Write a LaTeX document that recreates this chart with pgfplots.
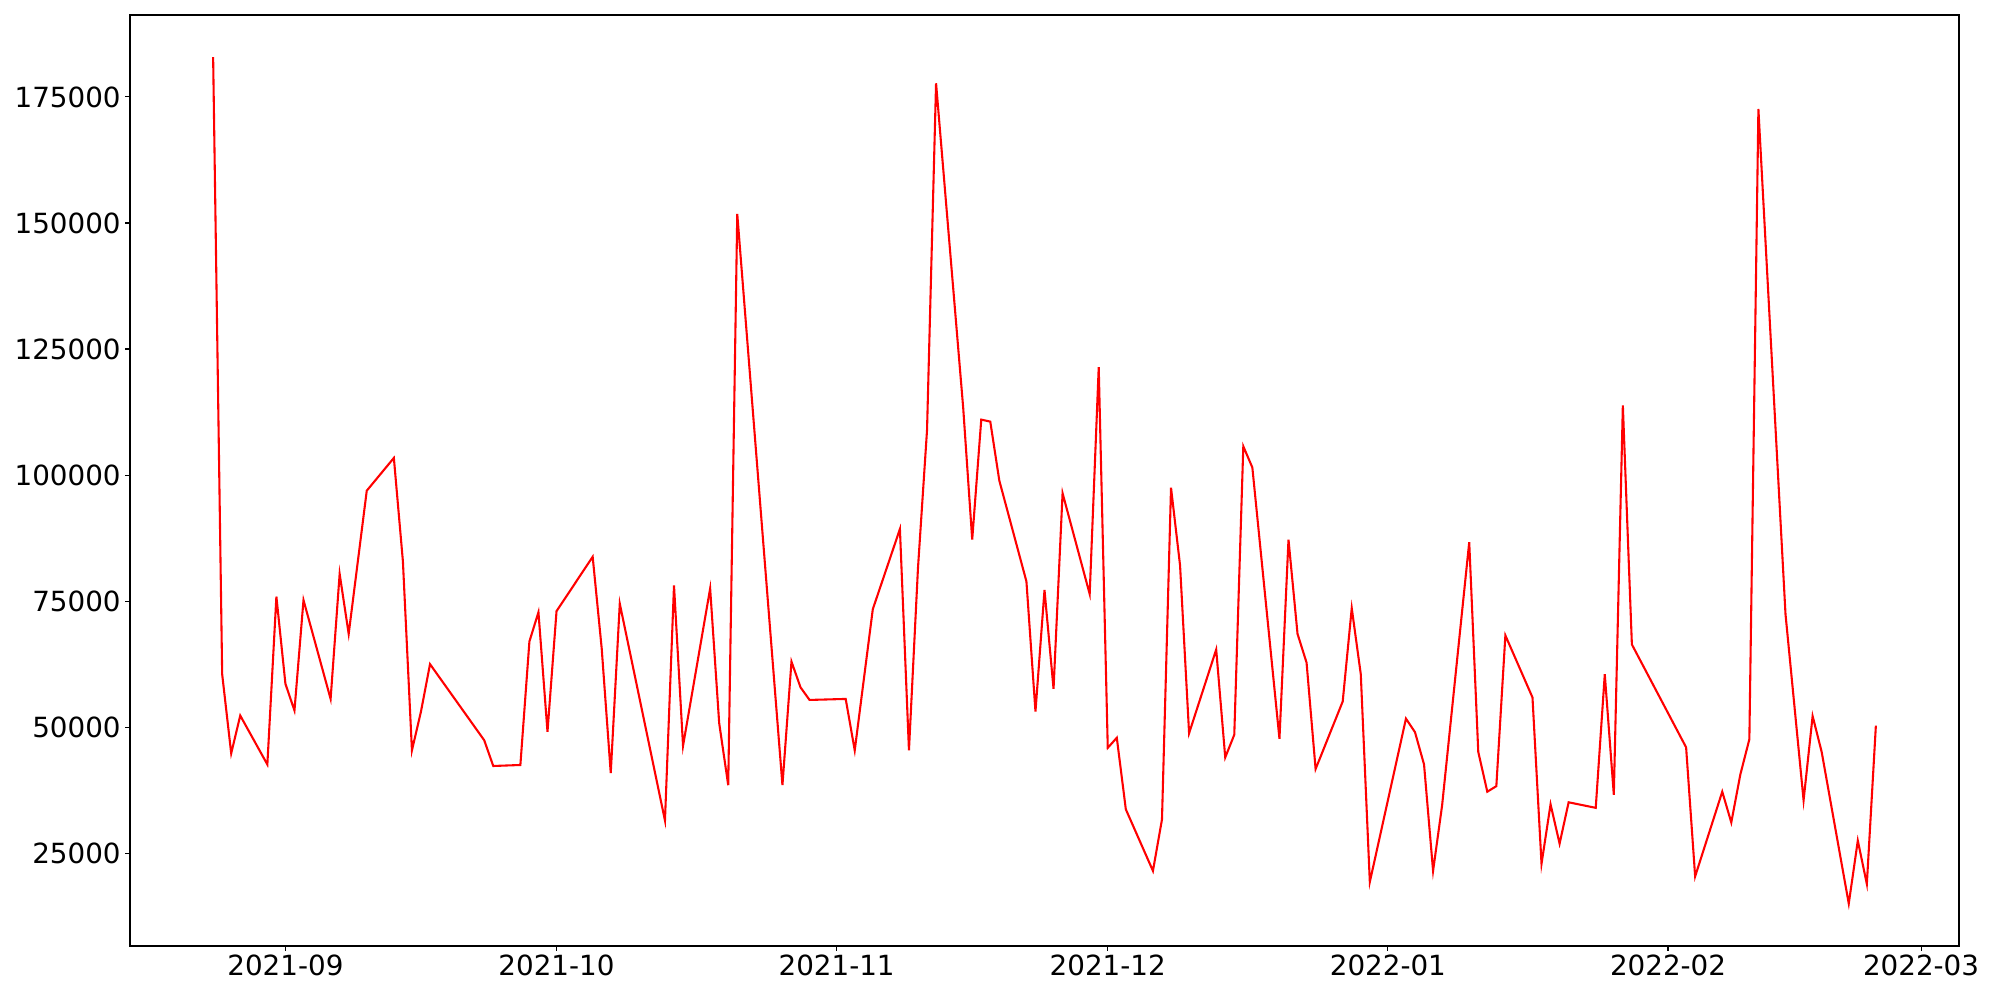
\documentclass[border=0pt]{standalone}
\usepackage{fontspec}
\setmainfont{DejaVu Sans}
\usepackage{pgfplots}
\usepackage{pgfplotstable}
\pgfplotsset{compat=1.18}
% d = days since 2021-09-01
\pgfplotstableread{
d v
-8 182900
-7 60500
-6 44800
-5 52300
-2 42600
-1 75900
0 58600
1 53300
2 75200
5 55600
6 80400
7 68500
9 96900
12 103400
13 82900
14 45400
15 53100
16 62500
22 47400
23 42300
26 42500
27 67000
28 72800
29 49100
30 73000
34 83800
35 65600
36 40900
37 74500
42 31500
43 78100
44 46300
47 77500
48 50800
49 38500
50 151800
55 38500
56 63000
57 57900
58 55400
62 55600
63 45400
65 73400
68 89300
69 45400
70 81600
71 108900
72 177700
75 113400
76 87200
77 111000
78 110600
79 98900
82 78900
83 53100
84 77200
85 57600
86 96400
89 76400
90 121400
91 45900
92 47900
93 33700
96 21500
97 31700
98 97500
99 82100
100 48800
103 65400
104 44000
105 48500
106 105700
107 101500
110 47700
111 87200
112 68500
113 62800
114 41700
117 55100
118 73600
119 60500
120 19300
124 51700
125 49000
126 42600
127 21500
128 34500
131 86700
132 45100
133 37200
134 38300
135 68200
138 55900
139 22900
140 34700
141 26900
142 35100
145 34000
146 60500
147 36600
148 113800
149 66400
155 46000
156 20400
159 37200
160 31100
161 40600
162 47600
163 172600
166 72400
168 35500
169 52200
170 45100
173 15000
174 27500
175 18900
176 50300
}\datatable
\begin{document}
\begin{tikzpicture}
\begin{axis}[
  scale only axis,
  width=18.29in, height=9.31in,
  xmin=-17.2, xmax=185.2, ymin=6600, ymax=191250,
  xtick={0,30,61,91,122,153,181},
  xticklabels={2021-09,2021-10,2021-11,2021-12,2022-01,2022-02,2022-03},
  ytick={25000,50000,75000,100000,125000,150000,175000},
  scaled y ticks=false,
  yticklabel style={/pgf/number format/fixed,/pgf/number format/1000 sep={}},
  /pgf/number format/assume math mode=true,
  ticklabel style={font=\fontsize{20bp}{24bp}\selectfont, inner sep=3bp},
  tick align=outside, tick pos=left,
  major tick length=3.5bp,
  axis line style={line width=0.8bp},
  every tick/.style={line width=0.8bp, black},
]
\addplot[red, line width=1.5bp] table[x=d,y=v]{\datatable};
\end{axis}
\path (current axis.south west) ++(-1.3in,-0.54in) rectangle ([shift={(0.41in,0.15in)}]current axis.north east);
\end{tikzpicture}
\end{document}
